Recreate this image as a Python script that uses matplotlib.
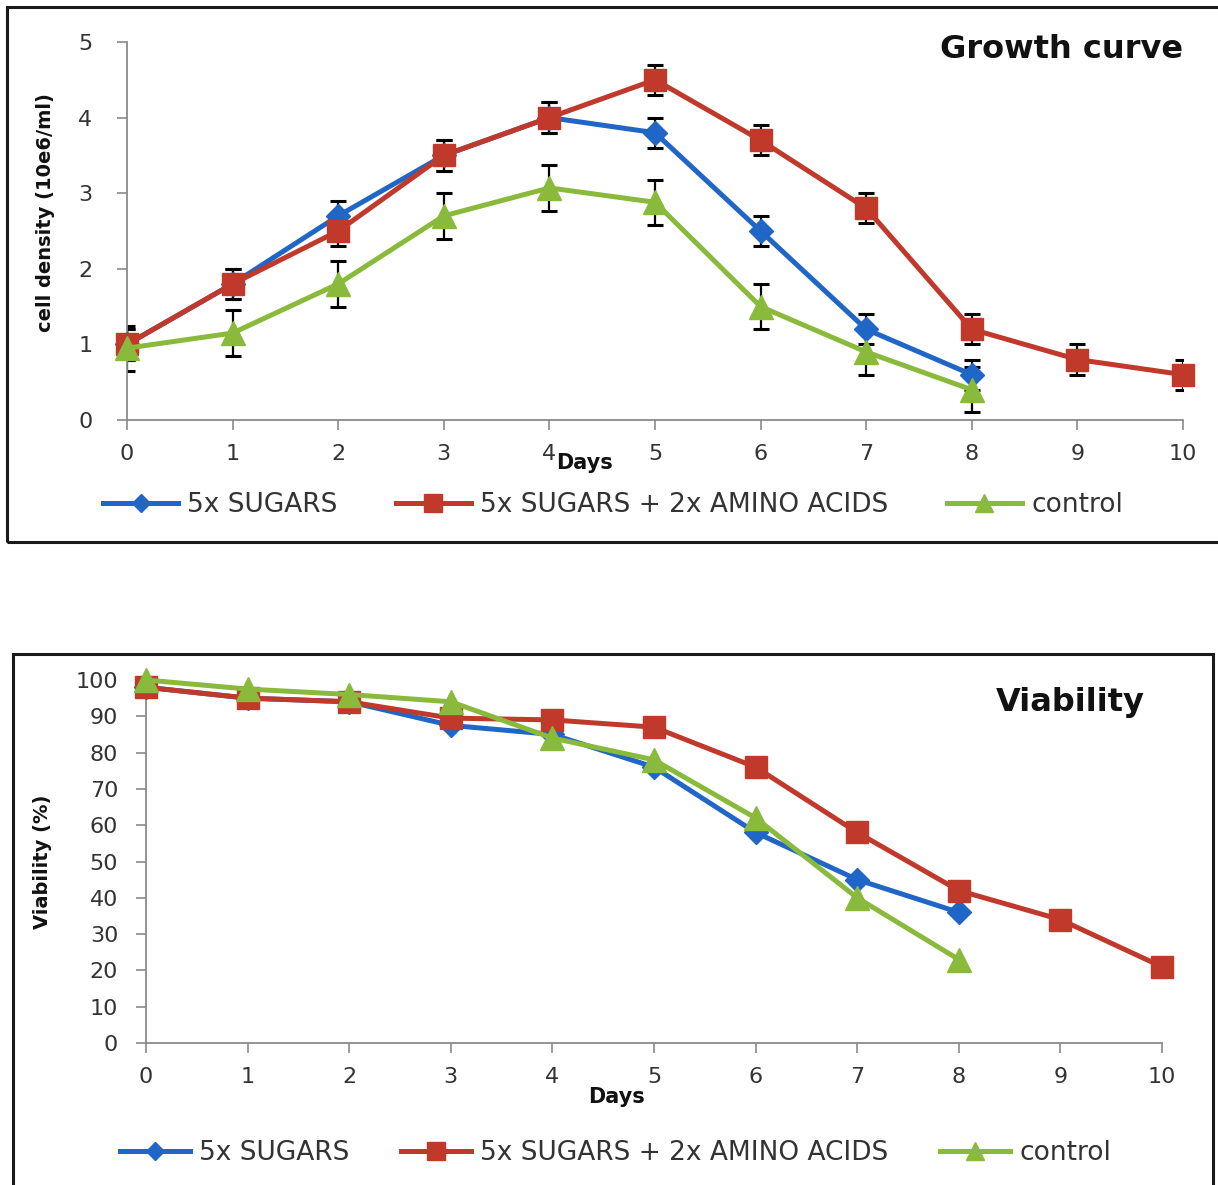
import matplotlib
matplotlib.use('Agg')
import matplotlib.pyplot as plt
from matplotlib.lines import Line2D
from matplotlib.patches import Rectangle

# ---------------- data ----------------
days = list(range(11))
series_labels = ['5x SUGARS', '5x SUGARS + 2x AMINO ACIDS', 'control']

sugar_density = [1.0, 1.8, 2.7, 3.5, 4.0, 3.8, 2.5, 1.2, 0.6]
sugar_density_err = [0.2, 0.2, 0.2, 0.2, 0.2, 0.2, 0.2, 0.2, 0.2]
amino_density = [1.0, 1.8, 2.5, 3.5, 4.0, 4.5, 3.7, 2.8, 1.2, 0.8, 0.6]
amino_density_err = [0.2, 0.2, 0.2, 0.2, 0.2, 0.2, 0.2, 0.2, 0.2, 0.2, 0.2]
control_density = [0.95, 1.15, 1.8, 2.7, 3.07, 2.88, 1.5, 0.9, 0.4]
control_density_err = [0.3, 0.3, 0.3, 0.3, 0.3, 0.3, 0.3, 0.3, 0.3]

sugar_viab = [98, 95, 94, 87.5, 85, 76, 58, 45, 36]
amino_viab = [98, 95, 94, 89.5, 89, 87, 76, 58, 42, 34, 21]
control_viab = [100, 97.5, 96, 94, 84, 78, 62, 40, 23]

growth_yticks = [0, 1, 2, 3, 4, 5]
viab_yticks = [0, 10, 20, 30, 40, 50, 60, 70, 80, 90, 100]

# ---------------- style ----------------
BLUE = '#1f66c6'
RED = '#c0392b'
GREEN = '#8aba3c'
AXC = '#8a8a8a'
TXT = '#333333'

W, H = 1218, 1185
fig = plt.figure(figsize=(W / 100, H / 100), dpi=100)
fig.patch.set_facecolor('white')


def fx(px):
    return px / W


def fy(py):
    return 1 - py / H


def style(ax, ylim, yticks, ypad):
    ax.set_xlim(0, 10)
    ax.set_ylim(*ylim)
    ax.set_xticks(days)
    ax.set_yticks(yticks)
    for s in ['top', 'right']:
        ax.spines[s].set_visible(False)
    for s in ['left', 'bottom']:
        ax.spines[s].set_color(AXC)
        ax.spines[s].set_linewidth(1.3)
    ax.tick_params(direction='out', length=7, width=1.2, color=AXC,
                   labelsize=16, labelcolor=TXT)
    ax.tick_params(axis='x', pad=10)
    ax.tick_params(axis='y', pad=ypad)
    ax.set_facecolor('none')


# panel frames
fig.patches.append(Rectangle((fx(7), fy(542)), fx(1230) - fx(7), (542 - 7) / H,
                             transform=fig.transFigure, fill=False,
                             edgecolor='#1a1a1a', linewidth=2.2, zorder=0))
fig.patches.append(Rectangle((fx(13), fy(1200)), fx(1213) - fx(13), (1200 - 654) / H,
                             transform=fig.transFigure, fill=False,
                             edgecolor='#1a1a1a', linewidth=2.2, zorder=0))

# ---------------- growth curve ----------------
ax1 = fig.add_axes([fx(127), fy(420), fx(1183) - fx(127), (420 - 42) / H])
style(ax1, (0, 5), growth_yticks, 18)

n_s = len(sugar_density)
n_c = len(control_density)
ekw = dict(fmt='none', ecolor='black', elinewidth=1.6, capsize=5.5, capthick=2.2, zorder=2)
ax1.errorbar(days[:n_s], sugar_density, yerr=sugar_density_err, **ekw)
ax1.errorbar(days, amino_density, yerr=amino_density_err, **ekw)
ax1.errorbar(days[:n_c], control_density, yerr=control_density_err, **ekw)

ax1.plot(days[:n_s], sugar_density, color=BLUE, lw=3.6, marker='D', ms=12, zorder=3, clip_on=False)
ax1.plot(days, amino_density, color=RED, lw=3.6, marker='s', ms=16, zorder=4, clip_on=False)
ax1.plot(days[:n_c], control_density, color=GREEN, lw=3.6, marker='^', ms=17, zorder=5, clip_on=False)

# ---------------- viability ----------------
ax2 = fig.add_axes([fx(146), fy(1043), fx(1162) - fx(146), (1043 - 680) / H])
style(ax2, (0, 100), viab_yticks, 13)

ax2.plot(days[:len(sugar_viab)], sugar_viab, color=BLUE, lw=3.6, marker='D', ms=12, zorder=3, clip_on=False)
ax2.plot(days[:len(amino_viab)], amino_viab, color=RED, lw=3.6, marker='s', ms=16, zorder=4, clip_on=False)
ax2.plot(days[:len(control_viab)], control_viab, color=GREEN, lw=3.6, marker='^', ms=17, zorder=5, clip_on=False)

# ---------------- texts ----------------
fig.text(fx(46), fy(213), 'cell density (10e6/ml)', rotation=90, ha='center', va='center',
         fontsize=14, fontweight='bold', color='#111111')
fig.text(fx(43), fy(862), 'Viability (%)', rotation=90, ha='center', va='center',
         fontsize=14, fontweight='bold', color='#111111')

fig.text(fx(584), fy(463), 'Days', ha='center', va='center', fontsize=15, fontweight='bold', color='#111111')
fig.text(fx(616), fy(1097), 'Days', ha='center', va='center', fontsize=15, fontweight='bold', color='#111111')

fig.text(fx(1062), fy(50), 'Growth curve', ha='center', va='center', fontsize=23, fontweight='bold', color='#111111')
fig.text(fx(1070), fy(703), 'Viability', ha='center', va='center', fontsize=23, fontweight='bold', color='#111111')

# ---------------- legends ----------------
def handles():
    return [
        Line2D([], [], color=BLUE, lw=3.6, marker='D', ms=9),
        Line2D([], [], color=RED, lw=3.6, marker='s', ms=13),
        Line2D([], [], color=GREEN, lw=3.6, marker='^', ms=13),
    ]


lkw = dict(ncol=3, frameon=False, fontsize=19, handletextpad=0.35,
           borderaxespad=0, borderpad=0, labelcolor=TXT, loc='center left')
fig.legend(handles(), series_labels, bbox_to_anchor=(fx(103), fy(505)),
           handlelength=2.85, columnspacing=2.2, **lkw)
fig.legend(handles(), series_labels, bbox_to_anchor=(fx(120), fy(1153)),
           handlelength=2.65, columnspacing=1.95, **lkw)

fig.savefig('out.png', dpi=100, facecolor='white')
